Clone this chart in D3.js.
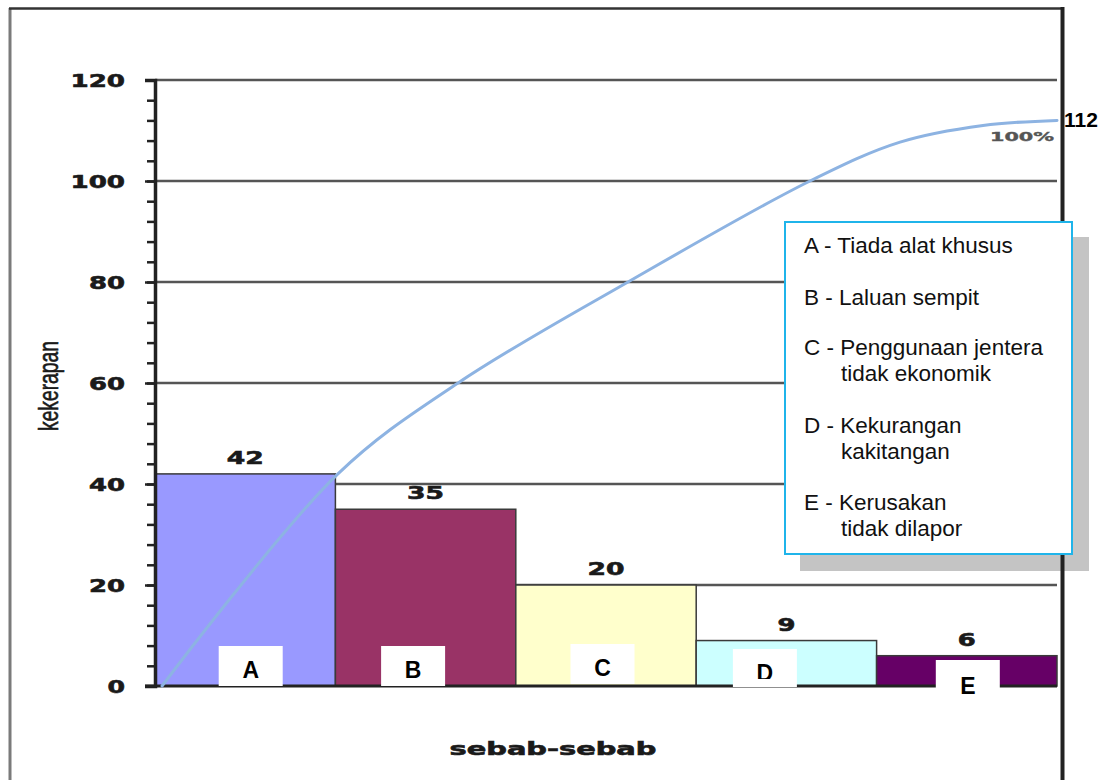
<!DOCTYPE html>
<html>
<head>
<meta charset="utf-8">
<script src="https://cdn.jsdelivr.net/npm/d3@7"></script>
<style>
  html, body { margin: 0; padding: 0; background: #fff; }
  svg { display: block; }
</style>
</head>
<body>
<div id="chart"></div>
<script>
// data
const categories = ["A", "B", "C", "D", "E"];
const counts = [42, 35, 20, 9, 6];
const yTicks = [0, 20, 40, 60, 80, 100, 120];
const yMinorTicks = d3.range(0, 121, 4);
// cumulative curve as drawn (position in category units, value)
const curvePos = [0.039, 1.014, 1.68, 2.622, 3.631, 4.13, 4.59, 5.0];
const curveVal = [0, 42, 60, 80, 100, 107.7, 111, 112];
const totalLabel = "112";
const percentLabel = "100%";
const legendLines = [
  ["A - Tiada alat khusus"],
  ["B - Laluan sempit"],
  ["C - Penggunaan jentera", "tidak ekonomik"],
  ["D - Kekurangan", "kakitangan"],
  ["E - Kerusakan", "tidak dilapor"],
];
const yTitle = "kekerapan";
const xTitle = "sebab-sebab";

const colors = {
  bars: ["#9999FF", "#993366", "#FFFFCC", "#CCFFFF", "#660066"],
  barStroke: "#3a3a3a",
  grid: "#555555",
  axis: "#222222",
  curve: "#8DB3E2",
  legendBorder: "#1FB4EA",
  shadow: "#C4C4C4",
  text: "#111111",
};

const config = {
  width: 1107, height: 780,
  left: 155, right: 1057, top: 80, bottom: 686,
  // white label boxes at the bar bottoms: offset from band centre, top, bottom, letter baseline
  labelBoxes: [
    { dx: 5.5, top: 646, bottom: 686, base: 678 },
    { dx: -12.5, top: 646, bottom: 686, base: 678 },
    { dx: -3.5, top: 644, bottom: 684, base: 676 },
    { dx: -21.5, top: 649, bottom: 687, base: 681, clip: 679 },
    { dx: 1, top: 660, bottom: 700, base: 694 },
  ],
  boxW: 64,
  legend: { x: 785, y: 222, w: 287, h: 332, shadow: 15 },
  legendBase: [253, 305, 355, 433, 510],
  legendLineGap: 26,
};

const svg = d3.select("#chart").append("svg")
  .attr("width", config.width).attr("height", config.height);

const x = d3.scaleBand().domain(categories).range([config.left, config.right]).padding(0);
const y = d3.scaleLinear().domain([0, 120]).range([config.bottom, config.top]);
const xc = d3.scaleLinear().domain([0, 5]).range([config.left, config.right]);

const heavy = sel => sel
  .style("font-family", "DejaVu Sans").style("font-weight", "bold")
  .attr("stroke", "#1a1a1a").attr("stroke-width", 0.6).attr("fill", "#1a1a1a");

// outer frame
svg.append("line").attr("x1", 10).attr("x2", 10).attr("y1", 8).attr("y2", 780)
  .attr("stroke", "#7a7a7a").attr("stroke-width", 3);
svg.append("line").attr("x1", 9).attr("x2", 1064).attr("y1", 8.5).attr("y2", 8.5)
  .attr("stroke", "#333").attr("stroke-width", 2.5);

// grid
svg.append("g").selectAll("line").data(yTicks.filter(d => d > 0)).join("line")
  .attr("x1", config.left).attr("x2", config.right)
  .attr("y1", d => y(d)).attr("y2", d => y(d))
  .attr("stroke", colors.grid).attr("stroke-width", 2.5);

// bars
svg.append("g").selectAll("rect").data(counts).join("rect")
  .attr("x", (d, i) => x(categories[i]))
  .attr("width", x.bandwidth())
  .attr("y", d => y(d))
  .attr("height", d => y(0) - y(d))
  .attr("fill", (d, i) => colors.bars[i])
  .attr("stroke", colors.barStroke).attr("stroke-width", 1.5);

// y axis with major + minor ticks
const yAxisMinor = d3.axisLeft(y).tickValues(yMinorTicks).tickSize(8).tickFormat("");
const yAxis = d3.axisLeft(y).tickValues(yTicks).tickSize(10).tickFormat(d3.format("d"));
svg.append("g").attr("transform", `translate(${config.left},0)`).call(yAxisMinor)
  .call(g => g.select(".domain").remove())
  .call(g => g.selectAll(".tick line").attr("stroke", colors.axis).attr("stroke-width", 2.5));
svg.append("g").attr("class", "yAxis").attr("transform", `translate(${config.left},0)`).call(yAxis)
  .call(g => g.select(".domain").attr("stroke", colors.axis).attr("stroke-width", 3.5))
  .call(g => g.selectAll(".tick line").attr("stroke", colors.axis).attr("stroke-width", 2.5))
  .call(g => g.selectAll(".tick text")
    .attr("x", -30)
    .attr("dy", "0.36em")
    .attr("textLength", d => String(d).length * 18.5 - 1)
    .attr("lengthAdjust", "spacingAndGlyphs")
    .style("font-size", "17px")
    .call(heavy));

// baseline
svg.append("line").attr("x1", config.left - 10).attr("x2", config.right)
  .attr("y1", y(0)).attr("y2", y(0))
  .attr("stroke", colors.axis).attr("stroke-width", 3);

// value labels
svg.append("g").selectAll("text").data(counts).join("text")
  .attr("x", (d, i) => x(categories[i]) + x.bandwidth() / 2)
  .attr("y", d => y(d) - 10)
  .attr("text-anchor", "middle")
  .attr("textLength", d => String(d).length * 19 - 1)
  .attr("lengthAdjust", "spacingAndGlyphs")
  .style("font-size", "17px")
  .call(heavy)
  .text(d => d);

// category label boxes
const defs = svg.append("defs");
config.labelBoxes.forEach((b, i) => {
  const cx = x(categories[i]) + x.bandwidth() / 2 + b.dx;
  defs.append("clipPath").attr("id", `clip-${i}`).append("rect")
    .attr("x", cx - config.boxW / 2).attr("y", b.top)
    .attr("width", config.boxW).attr("height", (b.clip || b.bottom) - b.top);
  svg.append("rect")
    .attr("x", cx - config.boxW / 2).attr("y", b.top)
    .attr("width", config.boxW).attr("height", b.bottom - b.top)
    .attr("fill", "#fff");
  svg.append("text")
    .attr("clip-path", `url(#clip-${i})`)
    .attr("x", cx).attr("y", b.base)
    .attr("text-anchor", "middle")
    .style("font-family", "Liberation Sans, Arial").style("font-weight", "bold").style("font-size", "23px")
    .attr("fill", "#000")
    .text(categories[i]);
});

// cumulative curve
const curvePts = curvePos.map((p, i) => [p, curveVal[i]]);
svg.append("path").datum(curvePts)
  .attr("d", d3.line().x(d => xc(d[0])).y(d => y(d[1])).curve(d3.curveCatmullRom.alpha(0.5)))
  .attr("fill", "none").attr("stroke", colors.curve).attr("stroke-width", 3)
  .attr("stroke-linecap", "round");

// legend shadow, right frame border, legend box
const L = config.legend;
svg.append("rect").attr("x", L.x + L.shadow).attr("y", L.y + L.shadow)
  .attr("width", L.w + 2).attr("height", L.h + 2).attr("fill", colors.shadow);
svg.append("line").attr("x1", 1062.5).attr("x2", 1062.5).attr("y1", 7).attr("y2", 780)
  .attr("stroke", "#222").attr("stroke-width", 4);

svg.append("text").attr("x", 1064).attr("y", 127)
  .style("font-family", "Liberation Sans, Arial").style("font-weight", "bold").style("font-size", "21px")
  .attr("fill", "#000").text(totalLabel);
svg.append("text").attr("x", 1054).attr("y", 141).attr("text-anchor", "end")
  .attr("textLength", 64).attr("lengthAdjust", "spacingAndGlyphs")
  .style("font-family", "DejaVu Sans").style("font-weight", "bold").style("font-size", "13px")
  .attr("fill", "#555").attr("stroke", "#555").attr("stroke-width", 0.4).text(percentLabel);

svg.append("rect").attr("x", L.x).attr("y", L.y).attr("width", L.w).attr("height", L.h)
  .attr("fill", "#fff").attr("stroke", colors.legendBorder).attr("stroke-width", 2);

legendLines.forEach((lines, i) => {
  lines.forEach((t, j) => {
    svg.append("text")
      .attr("x", j === 0 ? 804 : 841)
      .attr("y", config.legendBase[i] + j * config.legendLineGap)
      .style("font-family", "Liberation Sans, Arial").style("font-size", "22.5px")
      .attr("fill", colors.text).text(t);
  });
});

// axis titles
svg.append("text")
  .attr("transform", "translate(58,386) rotate(-90)")
  .attr("text-anchor", "middle")
  .attr("textLength", 90).attr("lengthAdjust", "spacingAndGlyphs")
  .style("font-family", "Liberation Sans, Arial").style("font-size", "28px")
  .attr("fill", "#1a1a1a").attr("stroke", "#1a1a1a").attr("stroke-width", 0.6)
  .text(yTitle);
svg.append("text")
  .attr("x", 553).attr("y", 755)
  .attr("text-anchor", "middle")
  .attr("textLength", 207).attr("lengthAdjust", "spacingAndGlyphs")
  .style("font-size", "17px")
  .call(heavy)
  .text(xTitle);
</script>
</body>
</html>
